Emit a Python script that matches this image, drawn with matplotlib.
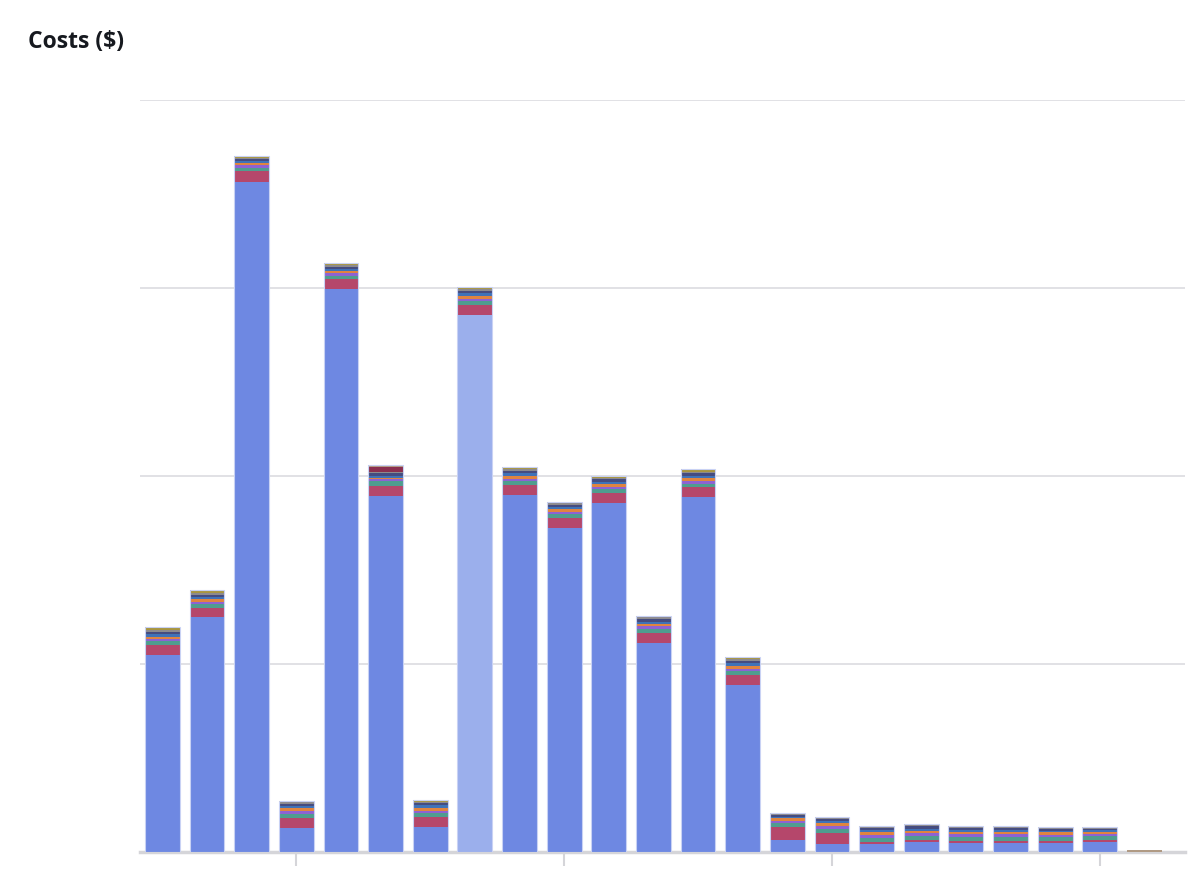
"""
Stacked cost bars per period, one colour per cost item.
"""
import numpy as np
import matplotlib
matplotlib.use("Agg")
import matplotlib.pyplot as plt

# values per bar (23 periods), bottom to top of each stack
base     = [524, 625, 1782, 64, 1497, 947, 66, 1428, 949, 862, 928, 556, 944, 444,
            32, 21, 21, 27, 24, 24, 24, 27, 0]
crimson  = [27, 25, 28, 27, 26, 27, 27, 27, 27, 27, 27, 27, 26, 27,
            35, 29, 5, 6, 5, 5, 5, 5, 0]
teal     = [10, 10, 10, 10, 10, 12, 10, 10, 10, 10, 10, 10, 10, 10,
            10, 11, 11, 10, 11, 11, 10, 10, 0]
purple   = [6, 6, 6, 7, 6, 5, 7, 7, 7, 6, 7, 7, 7, 7,
            5, 7, 7, 8, 7, 7, 7, 6, 0]
orange   = [6, 6, 6, 8, 6, 5, 7, 7, 7, 6, 7, 7, 7, 7,
            8, 8, 8, 6, 6, 6, 6, 6, 0]
blue2    = [6, 6, 5, 6, 6, 5, 7, 7, 7, 6, 6, 6, 6, 7,
            4, 6, 6, 5, 6, 6, 5, 4, 0]
navy     = [6, 6, 6, 6, 6, 6, 6, 7, 7, 6, 6, 6, 7, 7,
            4, 5, 5, 8, 6, 6, 5, 4, 0]
grey     = [5, 6, 4, 4, 5, 3, 4, 5, 5, 4, 5, 5, 5, 5,
            3, 4, 4, 2, 2, 2, 2, 2, 0]
olive    = [8, 5, 4, 4, 4, 0, 4, 5, 5, 4, 4, 4, 4, 5,
            3, 2, 2, 2, 2, 2, 2, 2, 0]
darkred  = [0, 2, 0, 0, 0, 15, 0, 0, 0, 0, 0, 0, 3, 0,
            0, 0, 0, 0, 0, 0, 0, 0, 0]
tan      = [0, 0, 0, 0, 0, 3, 0, 0, 0, 0, 0, 0, 0, 0,
            0, 0, 0, 0, 0, 0, 0, 0, 5]

series = [base, crimson, teal, purple, orange, blue2, navy, grey, olive, darkred, tan]
colors = ['#6e88e2', '#b5476b', '#4f9d8f', '#8e62d2', '#e0843f', '#3f72b8',
          '#454c80', '#8c8a8e', '#a8953f', '#8b2f4f', '#b09a84']
highlight = 7  # hovered bar drawn lighter

x = np.arange(len(base))

fig = plt.figure(figsize=(11.99, 8.9), dpi=100)
ax = fig.add_axes([0.1168, 0.0427, 0.8712, 0.8449])

bottom = np.zeros(len(base))
for vals, col in zip(series, colors):
    vals = np.array(vals, dtype=float)
    cols = [col] * len(x)
    if col == colors[0]:
        cols[highlight] = '#9bafec'
    ax.bar(x, vals, 0.78, bottom=bottom, color=cols,
           edgecolor='none', linewidth=0, zorder=3)
    bottom += vals

# faint outline around each whole stack (not the near-empty last one)
has_base = np.array(base) > 0
ax.bar(x[has_base], bottom[has_base], 0.78, color='none', edgecolor='#c9d2f4',
       linewidth=0.8, zorder=4)

ax.set_xlim(-0.5, 22.9)
ax.set_ylim(0, 2000)
ax.set_yticks([500, 1000, 1500, 2000])
ax.yaxis.grid(True, color='#dcdce0', linewidth=1.2, zorder=0)
ax.tick_params(axis='y', length=0, labelleft=False)
ax.set_xticks([3, 9, 15, 21])
ax.tick_params(axis='x', length=10, width=1.5, color='#d5d5d9', labelbottom=False)
for side in ['top', 'right', 'left']:
    ax.spines[side].set_visible(False)
ax.spines['bottom'].set_color('#d5d5d9')
ax.spines['bottom'].set_linewidth(2.5)
ax.spines['bottom'].set_zorder(2)

fig.text(0.0234, 0.953, 'Costs ($)', fontsize=16.5, fontweight='bold',
         family=['Open Sans', 'DejaVu Sans'], color='#16191f', va='center')

fig.savefig('out.png', dpi=100)
